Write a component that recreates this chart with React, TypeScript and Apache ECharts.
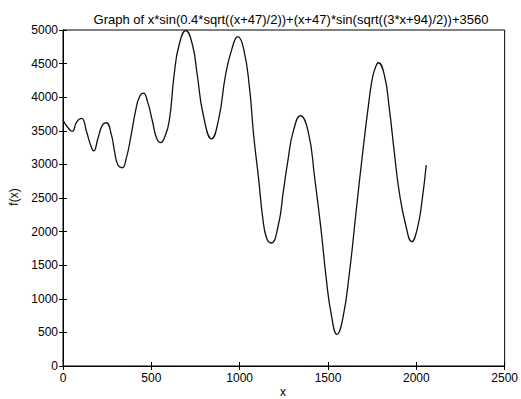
import React, { useEffect, useRef } from "react";
import * as echarts from "echarts";

const TITLE = "Graph of x*sin(0.4*sqrt((x+47)/2))+(x+47)*sin(sqrt((3*x+94)/2))+3560";
const X_NAME = "x";
const Y_NAME = "f(x)";

const xValues = [
  0, 24, 52, 77, 105, 133, 156, 174, 198, 223, 245, 274, 292, 311, 335, 358, 386, 410, 433, 455,
  479, 507, 530, 554, 573, 601, 629, 657, 695, 733, 760, 794, 841, 882, 920, 957, 989, 1022, 1056, 1079,
  1107, 1131, 1153, 1178, 1219, 1247, 1275, 1303, 1344, 1388, 1425, 1462, 1490, 1519, 1551, 1584, 1622, 1659, 1697, 1734,
  1753, 1771, 1785, 1819, 1847, 1875, 1903, 1940, 1974, 2006, 2034, 2056,
];
const yValues = [
  3660, 3560, 3490, 3630, 3685, 3490, 3290, 3200, 3390, 3585, 3620, 3440, 3190, 2990, 2950, 3090, 3440, 3785, 4005, 4060,
  3930, 3635, 3390, 3325, 3390, 3640, 4330, 4777, 4990, 4777, 4330, 3735, 3380, 3685, 4330, 4727, 4900, 4727, 4132, 3437,
  2793, 2198, 1900, 1830, 2098, 2594, 3091, 3487, 3725, 3487, 2793, 1998, 1305, 760, 472, 710, 1403, 2296, 3189, 3983,
  4305, 4460, 4513, 4330, 3834, 3189, 2594, 2098, 1850, 2049, 2495, 2991,
];

const X_MIN = 0;
const X_MAX = 2500;
const X_STEP = 500;
const Y_MIN = 0;
const Y_MAX = 5000;
const Y_STEP = 500;

export default function App() {
  const ref = useRef<HTMLDivElement>(null);
  useEffect(() => {
    document.body.style.margin = "0";
    if (!ref.current) return;
    const chart = echarts.init(ref.current, null, { renderer: "svg" });
    const font = "'Liberation Sans', Arial, Helvetica, sans-serif";
    const lineStyle = { color: "#000", width: 1 };
    const plain = (v: number) => String(v);
    const hiddenAxisCommon = {
      type: "value" as const,
      axisLine: { show: false },
      axisLabel: { show: false },
      splitLine: { show: false },
      axisTick: { show: true, inside: true, length: 4, lineStyle },
    };
    chart.setOption({
      animation: false,
      backgroundColor: "#fff",
      textStyle: { fontFamily: font },
      title: {
        text: TITLE,
        left: 286,
        top: 8,
        textAlign: "center",
        textStyle: { fontSize: 13, fontWeight: "normal", color: "#000", fontFamily: font },
      },
      grid: { left: 63, right: 13, top: 30, bottom: 33, show: true, borderColor: "#000", borderWidth: 1, backgroundColor: "transparent" },
      graphic: [
        {
          type: "text",
          x: 283,
          y: 392,
          style: { text: X_NAME, fontSize: 12, fill: "#000", fontFamily: font, align: "center", verticalAlign: "middle" },
        },
        {
          type: "text",
          x: 14,
          y: 197,
          rotation: Math.PI / 2,
          style: { text: Y_NAME, fontSize: 12, fill: "#000", fontFamily: font, align: "center", verticalAlign: "middle" },
        },
      ],
      xAxis: [
        {
          type: "value",
          min: X_MIN,
          max: X_MAX,
          interval: X_STEP,
          position: "bottom",
          axisLine: { show: true, onZero: false, lineStyle },
          axisTick: { show: true, inside: true, length: 4, lineStyle },
          axisLabel: { color: "#000", fontSize: 12, margin: 6, fontFamily: font, formatter: plain },
          splitLine: { show: false },
        },
        { ...hiddenAxisCommon, min: X_MIN, max: X_MAX, interval: X_STEP, position: "top" },
      ],
      yAxis: [
        {
          type: "value",
          min: Y_MIN,
          max: Y_MAX,
          interval: Y_STEP,
          position: "left",
          axisLine: { show: true, onZero: false, lineStyle },
          axisTick: { show: true, inside: true, length: 4, lineStyle },
          axisLabel: { color: "#000", fontSize: 12, margin: 5, fontFamily: font, formatter: plain },
          splitLine: { show: false },
        },
        { ...hiddenAxisCommon, min: Y_MIN, max: Y_MAX, interval: Y_STEP, position: "right" },
      ],
      series: [
        {
          type: "line",
          data: xValues.map((x, i) => [x, yValues[i]]),
          showSymbol: false,
          smooth: 0.5,
          lineStyle: { color: "#111", width: 1.3 },
          xAxisIndex: 0,
          yAxisIndex: 0,
        },
      ],
    });
    return () => chart.dispose();
  }, []);
  return <div ref={ref} style={{ width: 521, height: 399 }} />;
}
